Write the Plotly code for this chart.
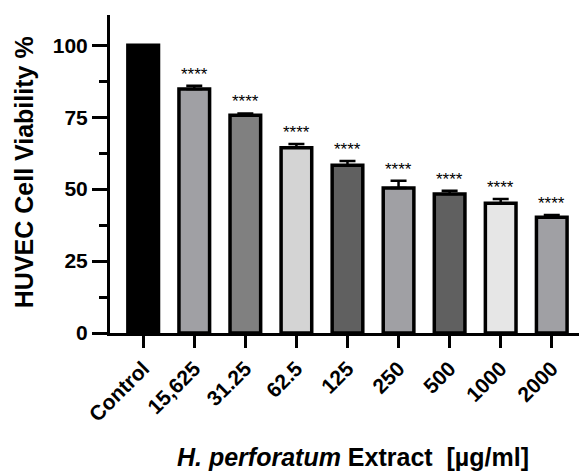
import plotly.graph_objects as go

categories = ["Control", "15,625", "31.25", "62.5", "125", "250", "500", "1000", "2000"]
viability = [100, 84.8, 75.7, 64.4, 58.3, 50.4, 48.3, 45.1, 40.2]
errors = [0, 1.1, 0.6, 1.3, 1.5, 2.5, 1.1, 1.5, 0.8]
significance = ["", "****", "****", "****", "****", "****", "****", "****", "****"]
bar_colors = ["#000000", "#a0a0a4", "#808080", "#d4d4d4", "#606060",
              "#a0a0a4", "#606060", "#e6e6e6", "#a0a0a4"]

FONT = "Arial, Liberation Sans, Helvetica, sans-serif"
xs = list(range(len(categories)))

fig = go.Figure()
fig.add_trace(go.Bar(
    x=xs, y=viability, width=0.6,
    marker=dict(color=bar_colors, line=dict(color="black", width=3.5)),
    error_y=dict(type="data", symmetric=False, array=errors,
                 arrayminus=[0] * len(errors), color="black",
                 thickness=2.5, width=8),
    showlegend=False,
))

for x, v, e, s in zip(xs, viability, errors, significance):
    if s:
        fig.add_annotation(x=x, y=v + e, text=s, showarrow=False,
                           yanchor="bottom", yshift=0,
                           font=dict(family=FONT, size=17, color="black"))

fig.add_annotation(xref="paper", yref="paper", x=0.51, y=-0.39,
                   xanchor="center", yanchor="middle", showarrow=False,
                   text="<i>H. perforatum</i> Extract  [µg/ml]",
                   font=dict(family=FONT, size=25, color="black", weight="bold"))
fig.add_annotation(xref="paper", yref="paper", x=-0.18, y=0.506,
                   xanchor="center", yanchor="middle", showarrow=False,
                   textangle=-90, text="HUVEC Cell Viability %",
                   font=dict(family=FONT, size=25, color="black", weight="bold"))

# page body has an 8px default margin, so the figure is 8px smaller each way
fig.update_layout(
    width=579, height=465,
    margin=dict(l=102, r=0, t=7, b=140, autoexpand=False),
    plot_bgcolor="white", paper_bgcolor="white",
    font=dict(family=FONT, color="black"),
)
fig.update_xaxes(
    range=[-0.65, 8.69], tickmode="array", tickvals=xs, ticktext=categories,
    tickangle=-45, showline=True, linecolor="black", linewidth=3,
    ticks="outside", ticklen=12, tickwidth=3, tickcolor="black",
    tickfont=dict(family=FONT, size=21, color="black", weight="bold"),
    showgrid=False, zeroline=False, automargin=False,
)
fig.update_yaxes(
    range=[0, 110.5], tickvals=[0, 25, 50, 75, 100],
    showline=True, linecolor="black", linewidth=3,
    ticks="outside", ticklen=15, tickwidth=3, tickcolor="black",
    minor=dict(tickvals=[12.5, 37.5, 62.5, 87.5], ticks="outside",
               ticklen=8, tickwidth=3, tickcolor="black"),
    tickfont=dict(family=FONT, size=21, color="black", weight="bold"),
    showgrid=False, zeroline=False, automargin=False,
)

fig.write_html("out.html")
